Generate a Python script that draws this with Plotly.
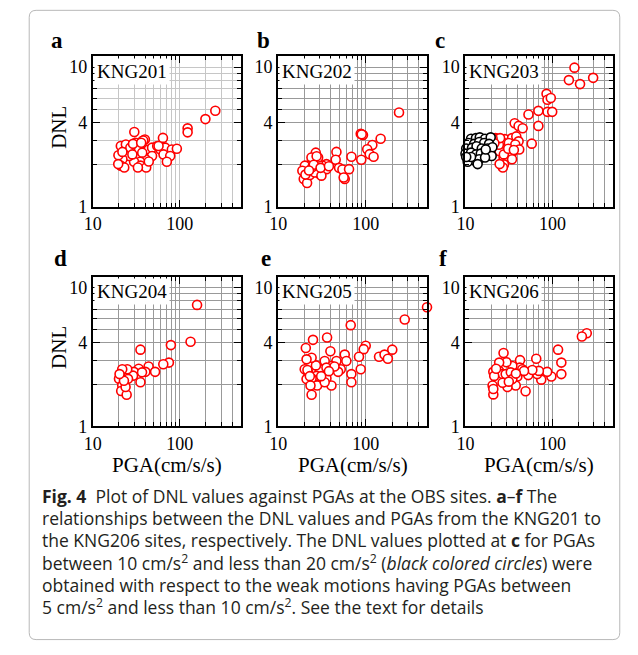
import plotly.graph_objects as go

W, H = 638, 655

# ---------------- data (PGA in cm/s/s, DNL) ----------------
sites = ["KNG201", "KNG202", "KNG203", "KNG204", "KNG205", "KNG206"]
panel_letters = ["a", "b", "c", "d", "e", "f"]

a_pga = [256, 197, 123, 123, 30, 64, 21, 24, 27, 31, 34.5, 37, 39.7, 34, 44, 48, 55, 60, 68, 81, 92.5, 65, 77.6, 71, 48,
         40.4, 35, 29.8, 26.1, 21.9, 21, 35.4, 41.1, 19.7, 21.9, 28.5, 37, 23, 19.6, 33, 44, 57, 29, 38, 36]
a_dnl = [4.87, 4.24, 3.64, 3.41, 3.43, 3.11, 2.72, 2.79, 2.65, 2.87, 2.72, 2.95, 3.03, 2.57, 2.57, 2.65, 2.72, 2.57, 2.65,
         2.57, 2.6, 2.37, 2.31, 2.1, 2.31, 2.19, 2.1, 2.1, 2.31, 2.19, 1.97, 1.97, 1.91, 2.34, 2.47, 2.37, 2.44, 1.91, 2.02,
         1.91, 2.11, 2.72, 2.82, 2.98, 2.87]

b_pga = [240, 87.7, 93, 90, 148, 119, 104, 111, 123, 89, 68.7, 46.3, 45.4, 49.6, 54.2, 57.6, 56, 64.5, 35.6, 35.6, 32.1,
         29.8, 28.6, 26.9, 24, 28.6, 22, 20.2, 18.9, 19.6, 21.4, 23, 26.2, 24.6, 31.2, 27.5, 25.5, 20.5, 22.5, 30.5, 38]
b_dnl = [4.73, 3.33, 3.26, 3.3, 3.07, 2.77, 2.58, 2.38, 2.28, 2.17, 2.28, 2.47, 2.17, 1.9, 1.85, 1.58, 1.62, 1.86, 1.86,
         2.02, 1.97, 1.72, 2.02, 2.44, 2.25, 2.25, 1.97, 1.97, 1.81, 1.58, 1.48, 1.69, 1.76, 1.93, 1.67, 2.3, 2.0, 1.7,
         1.82, 1.9, 1.95]

c_pga = [179, 154.5, 207.5, 293.6, 85.5, 87.7, 95.7, 87.7, 99.3, 68.9, 53, 36.8, 40.8, 45.4, 68.9, 57.8,
         22.2, 28.4, 34.3, 38.4, 40.8, 27.7, 31.5, 37.4, 41.5, 29.4, 34.3, 24.7, 27.4, 34.3, 27.7, 26.9, 24.7, 22.6,
         24.2, 27.6, 31, 36, 25, 20.5, 21.5]
c_dnl = [9.9, 8.06, 7.55, 8.37, 6.43, 5.83, 6.0, 4.78, 4.78, 4.86, 4.58, 3.96, 3.79, 3.65, 3.79, 2.83,
         3.1, 3.05, 3.1, 3.19, 2.94, 2.86, 2.86, 2.79, 2.57, 2.46, 2.44, 2.5, 2.25, 2.19, 2.01, 1.91, 2.02, 3.07,
         2.78, 2.37, 2.6, 2.55, 3.1, 3.08, 2.85]
# KNG203 weak motions (black circles)
c_weak_pga = [11.6, 13.2, 14.6, 16.8, 19.5, 10.9, 12.6, 14.4, 16.4, 18.7, 10.2, 11.9, 13.4, 15.4, 17.9, 20.4, 10, 11.6,
              13.2, 15.0, 17.4, 20, 9.74, 11.1, 12.6, 14.4, 16.8, 9.74, 10.6, 13.8, 17.1, 11.6, 10.2, 9.5]
c_weak_dnl = [3.07, 3.1, 3.14, 3.07, 3.14, 2.86, 2.82, 2.91, 2.86, 2.82, 2.61, 2.64, 2.71, 2.61, 2.61, 2.67, 2.4, 2.44,
              2.37, 2.4, 2.37, 2.31, 2.19, 2.22, 2.15, 2.19, 2.25, 2.13, 2.1, 2.02, 2.57, 2.27, 2.27, 2.2]

d_pga = [158, 133, 79, 35.3, 75, 64.6, 43.8, 52, 40.2, 33.7, 29.6, 29, 35.3, 24.9, 21.8, 25.4, 20.6, 20, 21.8, 21.2,
         24.5, 23.8, 36.8, 22.8, 20.3]
d_dnl = [7.5, 4.07, 3.85, 3.57, 2.88, 2.8, 2.7, 2.47, 2.47, 2.6, 2.47, 2.32, 2.08, 2.58, 2.58, 2.2, 2.29, 2.2, 1.97, 1.8,
         1.69, 1.92, 2.45, 2.13, 2.38]

e_pga = [501, 279, 67.4, 36.2, 25, 20.7, 39.5, 100, 94.9, 201, 142, 164, 179, 83.8, 87.7, 68.6, 68.6, 57.6, 60.1, 46.3,
         51.9, 48.4, 40.6, 34, 29.8, 35.6, 27, 24.1, 21.1, 20.1, 22, 27.4, 24.1, 21.1, 27.9, 23.4, 24.1, 35.6, 40.6, 34,
         21.6, 31, 44, 38, 23]
e_dnl = [7.22, 5.88, 5.36, 4.37, 4.2, 3.67, 3.48, 3.81, 3.6, 3.57, 3.17, 3.29, 3.07, 3.17, 2.58, 2.38, 2.08, 3.29, 2.96,
         2.96, 2.58, 2.47, 2.72, 2.96, 2.58, 2.65, 2.75, 3.12, 3.04, 2.58, 2.44, 2.31, 2.22, 2.19, 1.97, 1.97, 1.69, 2.22,
         1.97, 2.08, 2.55, 2.3, 2.7, 2.5, 2.3]

f_pga = [248, 218, 116, 126.5, 126.5, 97.1, 86.9, 74.3, 66.8, 65.1, 69.8, 53.7, 52.7, 49.1, 42.4, 42, 39.5, 37.8, 34.6,
         29.6, 27.4, 24.4, 24.4, 26.7, 29, 30.4, 26.7, 20.9, 21.4, 20.5, 20.9, 20.9, 33.2, 34.6, 45, 58.7, 47.1, 22.5,
         31.5, 38]
f_dnl = [4.69, 4.44, 3.57, 2.88, 2.38, 2.29, 2.47, 2.17, 2.38, 3.07, 2.51, 2.47, 2.34, 1.79, 3.0, 2.65, 2.29, 1.97, 2.72,
         2.9, 3.38, 2.88, 2.51, 2.38, 2.38, 1.92, 2.06, 2.47, 2.31, 1.97, 1.7, 1.86, 2.45, 2.19, 2.58, 2.55, 2.51, 2.6,
         2.1, 2.4]

panels = [(a_pga, a_dnl), (b_pga, b_dnl), (c_pga, c_dnl), (d_pga, d_dnl), (e_pga, e_dnl), (f_pga, f_dnl)]

x_major = [10, 100]
x_major_text = ["10", "100"]
x_minor = [20, 30, 40, 50, 60, 70, 80, 90, 200, 300, 400]
y_major = [1, 4, 10]
y_major_text = ["1", "4", "10"]
y_minor = [2, 3, 5, 6, 7, 8, 9]

caption_lines = [
    "<b>Fig. 4</b>  Plot of DNL values against PGAs at the OBS sites. <b>a</b>–<b>f</b> The",
    "relationships between the DNL values and PGAs from the KNG201 to",
    "the KNG206 sites, respectively. The DNL values plotted at <b>c</b> for PGAs",
    "between 10 cm/s<sup>2</sup> and less than 20 cm/s<sup>2</sup> (<i>black colored circles</i>) were",
    "obtained with respect to the weak motions having PGAs between",
    "5 cm/s<sup>2</sup> and less than 10 cm/s<sup>2</sup>. See the text for details",
]

# ---------------- layout geometry (pixels) ----------------
col_px = [(85, 235), (273, 424), (463, 613)]
row_px = [(57, 210), (281, 433)]
letter_pos = [(49, 41), (258, 41), (437, 41), (52, 262), (261, 262), (440, 262)]
SERIF = "Liberation Serif"


def px(x):
    return x / W


def py(y):
    return 1 - y / H


fig = go.Figure()
layout = dict(width=W, height=H, margin=dict(l=0, r=0, t=0, b=0), paper_bgcolor="white", plot_bgcolor="white",
              showlegend=False, annotations=[], shapes=[])

for i in range(6):
    r, c = divmod(i, 3)
    k = "" if i == 0 else str(i + 1)
    x0, x1 = col_px[c]
    y0, y1 = row_px[r]
    grid = "#c6c6c6" if i == 0 else "#999999"
    common = dict(type="log", showline=True, linecolor="black", linewidth=2, mirror="allticks", ticks="inside",
                  tickcolor="black", tickwidth=1.3, ticklen=7, showgrid=True, gridcolor=grid, gridwidth=1,
                  zeroline=False, tickfont=dict(family=SERIF, size=18, color="black"), tickmode="array")
    layout["xaxis" + k] = dict(common, domain=[px(x0), px(x1)], anchor="y" + k, range=[1, 2.7],
                               tickvals=x_major, ticktext=x_major_text,
                               minor=dict(tickvals=x_minor, ticks="inside", ticklen=4, tickcolor="black",
                                          showgrid=True, gridcolor=grid, gridwidth=1))
    layout["yaxis" + k] = dict(common, domain=[py(y1), py(y0)], anchor="x" + k, range=[0, 1.078],
                               tickvals=y_major, ticktext=y_major_text,
                               minor=dict(tickvals=y_minor, ticks="inside", ticklen=4, tickcolor="black",
                                          showgrid=True, gridcolor=grid, gridwidth=1))
    xs, ys = panels[i]
    fig.add_trace(go.Scatter(x=xs, y=ys, mode="markers", xaxis="x" + k, yaxis="y" + k, cliponaxis=False,
                             marker=dict(symbol="circle", size=9, color="white", line=dict(color="#ff0000", width=1.6))))
    if i == 2:
        fig.add_trace(go.Scatter(x=c_weak_pga, y=c_weak_dnl, mode="markers", xaxis="x3", yaxis="y3", cliponaxis=False,
                                 marker=dict(symbol="circle", size=9, color="white",
                                             line=dict(color="black", width=1.6))))
    # site label box
    layout["annotations"].append(dict(text=sites[i], xref=("x" + k) + " domain", yref=("y" + k) + " domain",
                                      x=0.005, y=0.99, xanchor="left", yanchor="top", showarrow=False,
                                      bgcolor="white", borderpad=2,
                                      font=dict(family=SERIF, size=19, color="black")))
    # panel letter
    lx, ly = letter_pos[i]
    layout["annotations"].append(dict(text="<b>%s</b>" % panel_letters[i], xref="paper", yref="paper",
                                      x=px(lx), y=py(ly), xanchor="center", yanchor="middle", showarrow=False,
                                      font=dict(family=SERIF, size=23, color="black")))

# axis titles
for r in range(2):
    yc = (row_px[r][0] + row_px[r][1]) / 2 - 4
    layout["annotations"].append(dict(text="DNL", xref="paper", yref="paper", x=px(50), y=py(yc), textangle=-90,
                                      xanchor="center", yanchor="middle", showarrow=False,
                                      font=dict(family=SERIF, size=21, color="black")))
for c in range(3):
    xc = (col_px[c][0] + col_px[c][1]) / 2
    layout["annotations"].append(dict(text="PGA(cm/s/s)", xref="paper", yref="paper", x=px(xc), y=py(472),
                                      xanchor="center", yanchor="middle", showarrow=False,
                                      font=dict(family=SERIF, size=21, color="black")))

# caption
for j, line in enumerate(caption_lines):
    layout["annotations"].append(dict(text=line, xref="paper", yref="paper", x=px(31), y=py(504 + 22.4 * j),
                                      xanchor="left", yanchor="middle", showarrow=False, align="left",
                                      font=dict(family="Open Sans", size=17.5, color="#231f20")))

# outer rounded frame
L, R, T, B, rad = 20.5, 619.5, 10.5, 649.5, 7
rx, ry = rad / W, rad / H
p = ("M {a},{b} L {c},{b} Q {R},{b} {R},{d} L {R},{e} Q {R},{B} {c},{B} L {a},{B} Q {L},{B} {L},{e} "
     "L {L},{d} Q {L},{b} {a},{b} Z").format(a=px(L) + rx, b=py(T), c=px(R) - rx, d=py(T) - ry, e=py(B) + ry,
                                            R=px(R), L=px(L), B=py(B))
layout["shapes"].append(dict(type="path", path=p, xref="paper", yref="paper", line=dict(color="#b8b8b8", width=1),
                             layer="below"))

fig.update_layout(**layout)
fig.write_html("out.html")
